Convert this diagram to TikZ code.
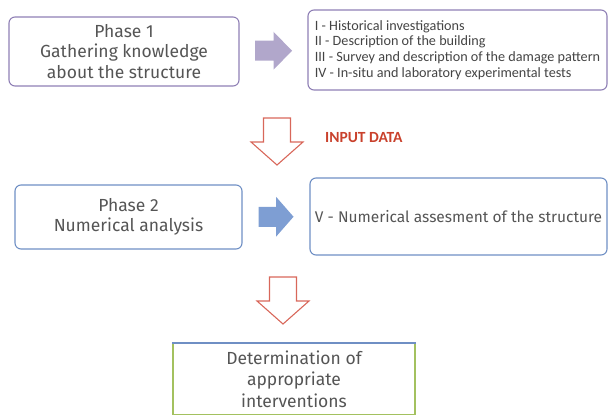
\documentclass[tikz,border=0pt]{standalone}
\usepackage{fontspec}
\setmainfont{Fira Sans}
\newfontfamily\narrowfont{Carlito}
\usetikzlibrary{positioning}

\definecolor{textgray}{HTML}{555555}
\definecolor{listgray}{HTML}{444444}
\definecolor{phaseviolet}{HTML}{8F80B5}
\definecolor{arrowviolet}{HTML}{B1A7CB}
\definecolor{phaseblue}{HTML}{6F8FC4}
\definecolor{arrowblue}{HTML}{7E9ED3}
\definecolor{arrowred}{HTML}{D8675A}
\definecolor{inputred}{HTML}{C9412C}
\definecolor{resultgreen}{HTML}{A3C15F}

\tikzset{
  phasebox/.style={draw=#1, rounded corners=6pt, line width=1.1pt, align=center,
    text=textgray, inner sep=0pt, font=\fontsize{17.5}{20.5}\selectfont},
  taskbox/.style={phasebox=#1, align=left},
  blockarrow/.style={fill=#1, draw=none},
  outarrow/.style={draw=arrowred, line width=1.1pt, line join=miter}
}

\begin{document}
\begin{tikzpicture}[x=1pt,y=-1pt]
  \useasboundingbox (0,0) rectangle (609,417);
  \clip (0,0) rectangle (609,417);

  % phase 1
  \node[phasebox=phaseviolet, minimum width=230pt, minimum height=69pt] (phase1) at (124,51.5)
    {Phase 1\\Gathering knowledge\\about the structure};
  \node[taskbox=phaseviolet, minimum width=299pt, minimum height=80pt, text=listgray,
    font=\narrowfont\fontsize{14.2}{15.7}\selectfont] (tasks1) at (457.5,50)
    {I - Historical investigations\\II - Description of the building\\
     III - Survey and description of the damage pattern\\IV - In-situ and laboratory experimental tests};

  % phase 2
  \node[phasebox=phaseblue, minimum width=227pt, minimum height=64pt] (phase2) at (128.5,217)
    {Phase 2\\Numerical analysis};
  \node[taskbox=phaseblue, minimum width=297pt, minimum height=77pt,
    font=\fontsize{15.5}{18}\selectfont] (tasks2) at (458.5,216.5)
    {V - Numerical assesment of the structure};

  % result
  \node[draw=resultgreen, line width=1.1pt, align=center, text=textgray, anchor=north,
    minimum width=242pt, inner ysep=7pt, font=\fontsize{17.5}{21.5}\selectfont] (result) at (294,343)
    {Determination of\\appropriate\\interventions};
  \draw[phaseblue, line width=1.3pt] (result.north west) -- (result.north east);

  % block arrows between the boxes
  \path (phase1.east) -- (tasks1.west) coordinate[midway] (gather);
  \path (phase2.east) -- (tasks2.west) coordinate[midway] (numeric);
  \fill[blockarrow=arrowviolet, shift={(gather)}]
    (-18.5,-10) -- (0,-10) -- (0,-19) -- (18.5,0) -- (0,19) -- (0,10) -- (-18.5,10) -- cycle;
  \fill[blockarrow=arrowblue, shift={(numeric)}]
    (-17.5,-10) -- (0,-10) -- (0,-20) -- (17.5,0) -- (0,20) -- (0,10) -- (-17.5,10) -- cycle;

  % down arrows
  \coordinate (inputarrow) at (277,118);
  \coordinate (resultarrow) at (283,277);
  \foreach \Point in {(inputarrow), (resultarrow)}
    \draw[outarrow, shift={\Point}]
      (-13.5,0) -- (13.5,0) -- (13.5,24) -- (26,24) -- (0,47) -- (-26,24) -- (-13.5,24) -- cycle;

  \node[anchor=west, text=inputred, inner sep=0pt,
    font=\narrowfont\bfseries\fontsize{15.5}{16}\selectfont] (input) at (325,138) {INPUT DATA};
\end{tikzpicture}
\end{document}
